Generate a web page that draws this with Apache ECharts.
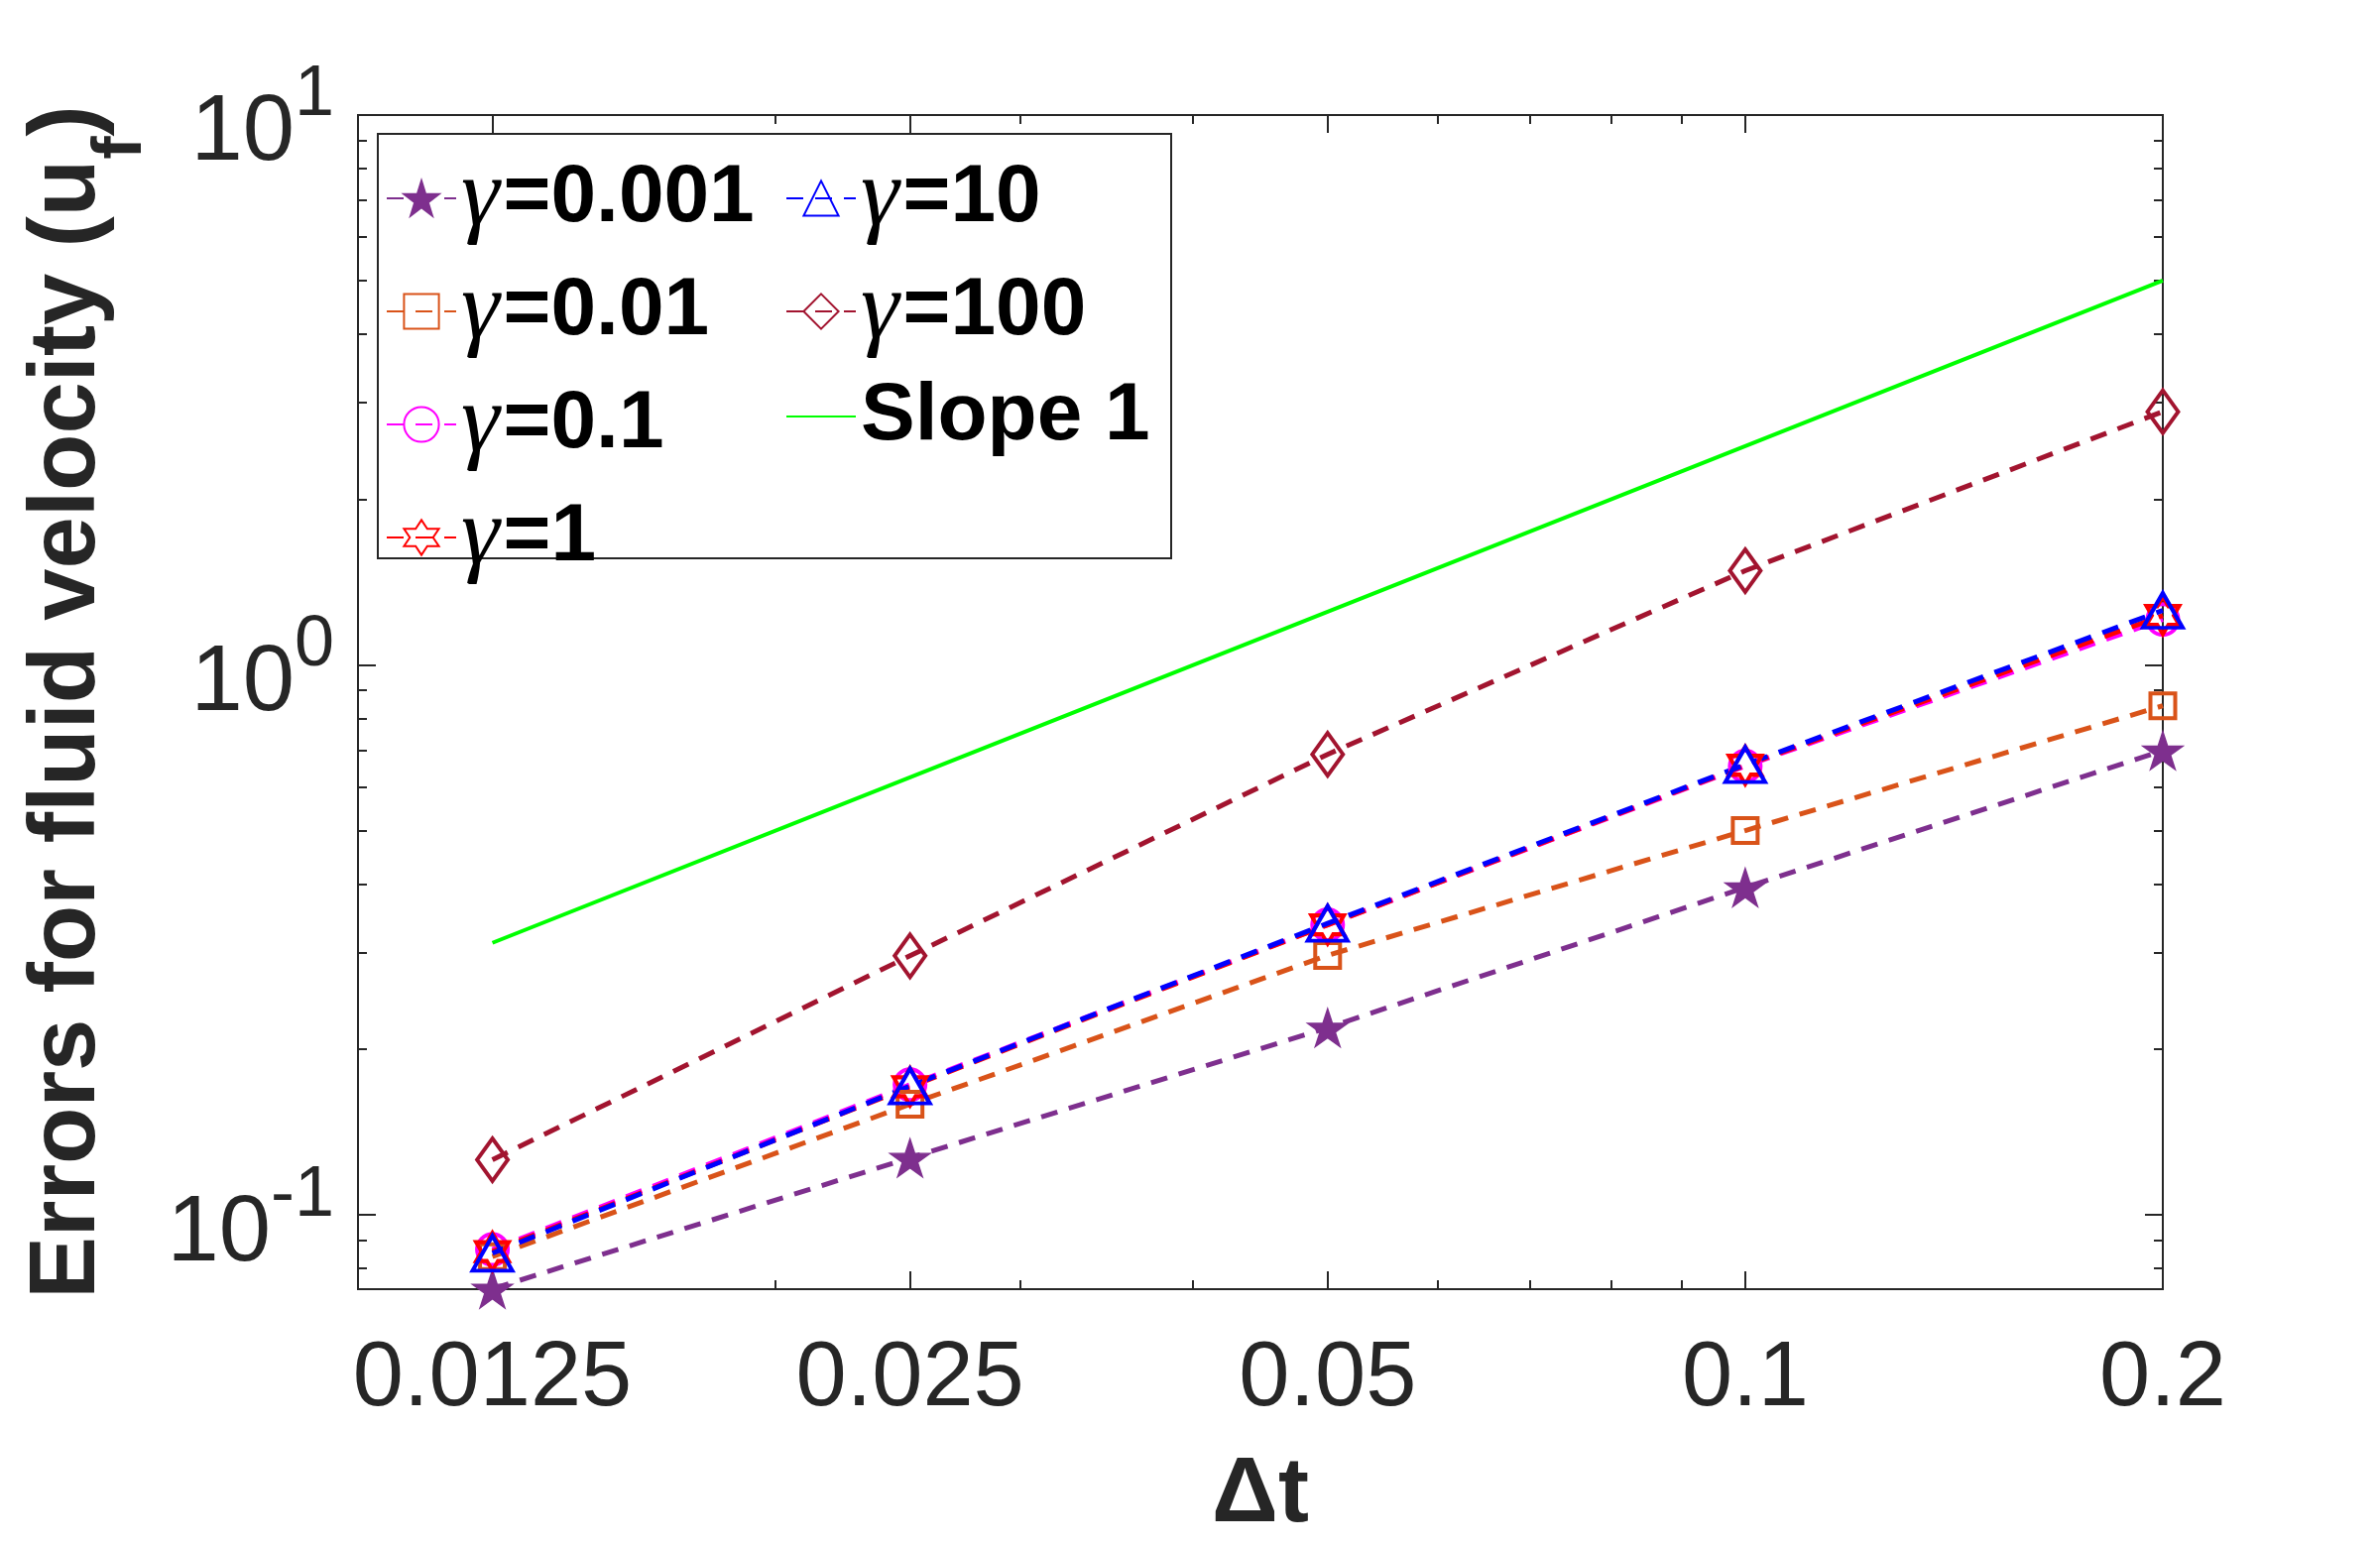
<!DOCTYPE html>
<html><head><meta charset="utf-8">
<script src="https://cdn.jsdelivr.net/npm/echarts@6/dist/echarts.min.js"></script>
<style>html,body{margin:0;padding:0;background:#fff}#c{width:2400px;height:1560px}</style>
</head><body><div id="c"></div>
<script>
// ---------- data ----------
const dt = [0.0125, 0.025, 0.05, 0.1, 0.2];
const errG0001 = [0.0734, 0.127, 0.219, 0.394, 0.699];
const errG001 = [0.0840, 0.159, 0.2965, 0.500, 0.843];
const errG01 = [0.0865, 0.1725, 0.337, 0.655, 1.21];
const errG1 = [0.0858, 0.171, 0.337, 0.657, 1.23];
const errG10 = [0.0852, 0.1716, 0.339, 0.659, 1.257];
const errG100 = [0.126, 0.296, 0.688, 1.484, 2.888];
const slope1 = [0.3125, 0.625, 1.25, 2.5, 5.0];
const seriesNames = ['γ=0.001', 'γ=0.01', 'γ=0.1', 'γ=1', 'γ=10', 'γ=100', 'Slope 1'];
const xTickValues = [0.0125, 0.025, 0.05, 0.1, 0.2];
const xTickLabels = ['0.0125', '0.025', '0.05', '0.1', '0.2'];
const xMinorTicks = [0.02, 0.03, 0.04, 0.06, 0.07, 0.08, 0.09];
const yTickValues = [0.1, 1, 10];
const yTickExponents = ['-1', '0', '1'];
const yMinorTicks = [0.08, 0.09, 0.2, 0.3, 0.4, 0.5, 0.6, 0.7, 0.8, 0.9, 2, 3, 4, 5, 6, 7, 8, 9];
const xRange = [0.01, 0.2];
const yRange = [0.0733, 10];

// ---------- styles ----------
const AX = '#262626';
const STAR = 'path://M0,-100 L22.45,-30.9 L95.1,-30.9 L36.33,11.8 L58.8,80.9 L0,38.2 L-58.8,80.9 L-36.33,11.8 L-95.1,-30.9 L-22.45,-30.9 Z';
const HEXA = 'path://M0,-100 L28.87,-50 L86.6,-50 L57.7,0 L86.6,50 L28.87,50 L0,100 L-28.87,50 L-86.6,50 L-57.7,0 L-86.6,-50 L-28.87,-50 Z';
const styles = [
  {color: '#7E2F8E', symbol: STAR, size: [40, 38], filled: true},
  {color: '#D95319', symbol: 'rect', size: [25, 25]},
  {color: '#FF00FF', symbol: 'circle', size: [31, 31]},
  {color: '#FF0000', symbol: HEXA, size: [33, 38]},
  {color: '#0000FF', symbol: 'triangle', size: [40, 35]},
  {color: '#A2142F', symbol: 'diamond', size: [31, 43]},
  {color: '#00FF00', symbol: 'none', solid: true}
];
const values = [errG0001, errG001, errG01, errG1, errG10, errG100, slope1];

function pick(v, vals, labels) {
  let best = 0, bd = Infinity;
  vals.forEach((t, i) => { const d = Math.abs(Math.log(v) - Math.log(t)); if (d < bd) { bd = d; best = i; } });
  return bd < 0.01 ? labels[best] : '';
}

const series = values.map((arr, i) => {
  const st = styles[i];
  let itemStyle;
  if (st.solid) itemStyle = {color: 'rgba(0,0,0,0)', borderColor: 'rgba(0,0,0,0)', borderWidth: 0};
  else if (st.filled) itemStyle = {color: st.color, borderColor: st.color, borderWidth: 1.5};
  else itemStyle = {color: 'rgba(255,255,255,0)', borderColor: st.color, borderWidth: 4};
  return {
    name: seriesNames[i],
    type: 'line',
    xAxisIndex: 0, yAxisIndex: 0,
    data: dt.map((x, j) => [x, arr[j]]),
    symbol: st.solid ? 'circle' : st.symbol,
    symbolSize: st.solid ? 0 : st.size,
    showSymbol: !st.solid,
    clip: false,
    lineStyle: {color: st.color, width: st.solid ? 4 : 5, type: st.solid ? 'solid' : [17, 12]},
    itemStyle: itemStyle,
    emphasis: {disabled: true},
    animation: false
  };
});

const lineAx = {show: true, lineStyle: {color: AX, width: 2}};
function xAxis(pos, ticks, len, labels) {
  return {
    type: 'log', logBase: 10, min: xRange[0], max: xRange[1], position: pos,
    axisLine: lineAx,
    axisTick: {show: true, inside: true, length: len, customValues: ticks, lineStyle: {color: AX, width: 2}},
    axisLabel: labels ? {show: true, customValues: xTickValues, margin: 46,
      formatter: v => pick(v, xTickValues, xTickLabels),
      fontFamily: 'Liberation Sans', fontSize: 92, lineHeight: 92, color: AX} : {show: false},
    minorTick: {show: false}, splitLine: {show: false}, minorSplitLine: {show: false},
    name: labels ? 'Δt' : '', nameLocation: 'middle', nameGap: 162,
    nameTextStyle: {fontFamily: 'Liberation Sans', fontWeight: 'bold', fontSize: 93, lineHeight: 93, color: AX}
  };
}
function yAxis(pos, ticks, len, labels) {
  return {
    type: 'log', logBase: 10, min: yRange[0], max: yRange[1], position: pos,
    axisLine: lineAx,
    axisTick: {show: true, inside: true, length: len, customValues: ticks, lineStyle: {color: AX, width: 2}},
    axisLabel: labels ? {show: true, customValues: yTickValues, margin: 24,
      formatter: v => '{b|10}{s|' + pick(v, yTickValues, yTickExponents) + '}',
      rich: {
        b: {fontFamily: 'Liberation Sans', fontSize: 94, lineHeight: 94, padding: [28, 0, 0, 0], verticalAlign: 'top', color: AX},
        s: {fontFamily: 'Liberation Sans', fontSize: 72, lineHeight: 111, verticalAlign: 'top', color: AX}
      }} : {show: false},
    minorTick: {show: false}, splitLine: {show: false}, minorSplitLine: {show: false},
    name: labels ? '{t|Errors for fluid velocity (u}{s|f}{t|)}' : '', nameLocation: 'middle', nameGap: 209, nameRotate: 90,
    nameTextStyle: {
      rich: {
        t: {fontFamily: 'Liberation Sans', fontWeight: 'bold', fontSize: 94, lineHeight: 94, verticalAlign: 'top', color: AX},
        s: {fontFamily: 'Liberation Sans', fontWeight: 'bold', fontSize: 70, lineHeight: 70, padding: [65, 0, 0, 0], verticalAlign: 'top', color: AX}
      }
    }
  };
}

const legendText = {
  rich: {
    g: {fontFamily: 'Liberation Serif', fontStyle: 'italic', fontSize: 98, lineHeight: 76, padding: [0, 4, 0, 0], color: '#000'},
    b: {fontFamily: 'Liberation Sans', fontWeight: 'bold', fontSize: 82, lineHeight: 76, color: '#000'}
  }
};
function legendFmt(name) {
  if (name.charAt(0) === 'γ') return '{g|γ}{b|' + name.slice(1) + '}';
  return '{b|' + name + '}';
}
function legend(left, names) {
  return {
    show: true, orient: 'vertical', left: left, top: 151, padding: 0,
    itemGap: 16, itemWidth: 70, itemHeight: 44, selectedMode: false,
    data: names, formatter: legendFmt, textStyle: legendText, z: 6
  };
}

const option = {
  animation: false,
  backgroundColor: '#fff',
  grid: {left: 361, right: 219, top: 116, bottom: 259, containLabel: false},
  xAxis: [xAxis('bottom', xTickValues, 18, true), xAxis('bottom', xMinorTicks, 9, false),
          xAxis('top', xTickValues, 18, false), xAxis('top', xMinorTicks, 9, false)],
  yAxis: [yAxis('left', yTickValues, 18, true), yAxis('left', yMinorTicks, 9, false),
          yAxis('right', yTickValues, 18, false), yAxis('right', yMinorTicks, 9, false)],
  legend: [legend(389, seriesNames.slice(0, 4)), legend(792, seriesNames.slice(4))],
  graphic: [{type: 'rect', z: 5, shape: {x: 381, y: 135, width: 800, height: 428},
    style: {fill: '#fff', stroke: AX, lineWidth: 2}}],
  series: series
};
const chart = echarts.init(document.getElementById('c'), null, {renderer: 'canvas', width: 2400, height: 1560});
chart.setOption(option);
</script></body></html>
